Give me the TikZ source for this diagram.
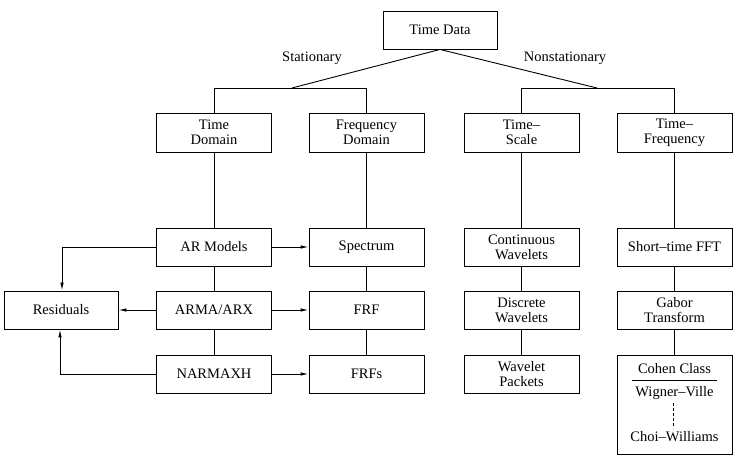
\documentclass[tikz,border=0pt]{standalone}
\usepackage{fontspec}
\setmainfont{Liberation Serif}
\usetikzlibrary{arrows.meta}
\begin{document}
\begin{tikzpicture}[x=1pt,y=-1pt,
  box/.style={draw,line width=0.9pt,minimum width=115pt,minimum height=38pt,inner sep=0pt,align=center,
    font=\fontsize{14.5}{15}\selectfont},
  lbl/.style={font=\fontsize{14.5}{15}\selectfont,inner sep=0pt},
  ln/.style={line width=0.9pt,line join=miter},
  arr/.style={line width=0.9pt,-{Latex[length=8pt,width=3.5pt]}}]
\useasboundingbox (0,0) rectangle (740,465);
\fill[white] (0,0) rectangle (740,465);
% top
\node[box,minimum width=114pt] (td0) at (440,30) {Time Data};
\node[lbl] (stat) at (312,58) {Stationary};
\node[lbl] (nonstat) at (565,58) {Nonstationary};
% level 1
\node[box,minimum height=39pt] (tdom) at (214,132.5) {Time\\Domain};
\node[box,minimum height=39pt] (fdom) at (366.5,132.5) {Frequency\\Domain};
\node[box,minimum height=39pt] (tsc) at (521.5,132.5) {Time--\\Scale};
\node[box,minimum height=39pt] (tfr) at (674.5,132.5) {Time--\\Frequency};
\coordinate (jl) at (292,88);
\coordinate (jr) at (597,88);
\draw[ln] (td0.south) -- (jl);
\draw[ln] (td0.south) -- (jr);
\draw[ln] (tdom.north) -- (tdom.north |- jl) -- (fdom.north |- jl) -- (fdom.north);
\draw[ln] (tsc.north) -- (tsc.north |- jr) -- (tfr.north |- jr) -- (tfr.north);
% rows
\node[box] (ar) at (214,247) {AR Models};
\node[box] (arma) at (214,310) {ARMA/ARX};
\node[box] (narm) at (214,374) {NARMAXH};
\node[box,minimum width=114pt] (res) at (61,310) {Residuals};
\node[box] (spec) at (366.5,247) {Spectrum};
\node[box] (frf) at (366.5,310) {FRF};
\node[box] (frfs) at (366.5,374) {FRFs};
\node[box] (cw) at (521.5,247) {Continuous\\Wavelets};
\node[box] (dw) at (521.5,310) {Discrete\\Wavelets};
\node[box] (wp) at (521.5,374) {Wavelet\\Packets};
\node[box] (stf) at (674.5,247) {Short--time FFT};
\node[box] (gab) at (674.5,310) {Gabor\\Transform};
\node[box,minimum height=99pt] (coh) at (674.5,404.5) {};
\node[lbl] (cc) at (674.5,369) {Cohen Class};
\node[lbl] (wv) at (674.5,393) {Wigner--Ville};
\node[lbl] (chw) at (674.5,437) {Choi--Williams};
\coordinate (hl) at (632,380);
\coordinate (hr) at (717,380);
\draw[ln] (hl) -- (hr);
\coordinate (dtop) at (673,403);
\coordinate (dbot) at (673,428);
\draw[ln,dashed,dash pattern=on 3pt off 2pt] (dtop) -- (dbot);
% verticals
\draw[ln] (tdom) -- (ar);
\draw[ln] (ar) -- (arma);
\draw[ln] (arma) -- (narm);
\draw[ln] (fdom) -- (spec);
\draw[ln] (spec) -- (frf);
\draw[ln] (frf) -- (frfs);
\draw[ln] (tsc) -- (cw);
\draw[ln] (cw) -- (dw);
\draw[ln] (dw) -- (wp);
\draw[ln] (tfr) -- (stf);
\draw[ln] (stf) -- (gab);
\draw[ln] (gab) -- (coh);
% arrows
\draw[arr] (ar) -- (spec);
\draw[arr] (arma) -- (frf);
\draw[arr] (narm) -- (frfs);
\draw[arr] (arma) -- (res);
\draw[arr] (ar.west) -| ([xshift=1pt]res.north);
\draw[arr] (narm.west) -| ([xshift=-1pt]res.south);
\end{tikzpicture}
\end{document}
